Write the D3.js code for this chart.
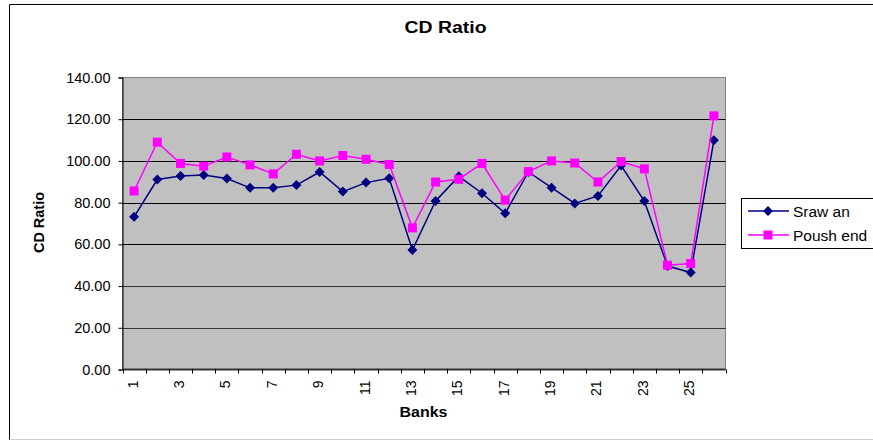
<!DOCTYPE html>
<html><head><meta charset="utf-8">
<script src="https://cdn.jsdelivr.net/npm/d3@7"></script>
<style>body{margin:0;background:#fff}svg{display:block;font-family:"Liberation Sans",Arial,sans-serif}</style>
</head><body>
<svg id="c" width="873" height="441"></svg>
<script>
const categories = d3.range(1, 27).map(String);
const srawan = [73.2,91.1,92.8,93.3,91.6,87.1,87.1,88.4,94.7,85.3,89.6,91.7,57.3,80.8,92.6,84.5,74.9,94.7,87.2,79.6,83.2,97.8,80.8,49.6,46.5,109.9];
const poushEnd = [85.6,109.0,98.8,97.5,101.9,98.1,93.8,103.2,100.0,102.6,100.8,98.3,67.9,89.9,91.2,98.8,81.2,94.9,100.0,99.0,89.9,99.7,96.2,50.0,50.8,121.6];
const yTicks = [0,20,40,60,80,100,120,140];
const seriesNames = ["Sraw an","Poush end"];

const svg = d3.select("#c");
const L = 122.5, R = 725.5, T = 77.5, B = 369.5;
const x = d3.scaleBand().domain(categories).range([L, R]);
const y = d3.scaleLinear().domain([0,140]).range([B, T]);

// outer frame
svg.append("line").attr("x1",9.5).attr("x2",9.5).attr("y1",4.5).attr("y2",440).attr("stroke","#000");
svg.append("line").attr("x1",9.5).attr("x2",873).attr("y1",4.5).attr("y2",4.5).attr("stroke","#000");
svg.append("line").attr("x1",9.5).attr("x2",873).attr("y1",439.5).attr("y2",439.5).attr("stroke","#ccc");

// plot area
svg.append("rect").attr("x",L).attr("y",T).attr("width",R-L).attr("height",B-T)
  .attr("fill","#c0c0c0").attr("stroke","#808080").attr("stroke-width",1);

// gridlines
svg.append("g").selectAll("line").data(yTicks.filter(d=>d>0 && d<140)).join("line")
  .attr("x1",L).attr("x2",R).attr("y1",d=>Math.round(y(d))+0.5).attr("y2",d=>Math.round(y(d))+0.5)
  .attr("stroke",d=>d<=40?"#333":"#000").attr("stroke-width",1);

// y axis
const yAxis = d3.axisLeft(y).tickValues(yTicks).tickFormat(d3.format(".2f")).tickSize(4).tickPadding(8);
const gy = svg.append("g").attr("transform",`translate(${L},0)`).call(yAxis);
gy.select(".domain").attr("stroke","#000");
gy.selectAll("line").attr("stroke","#000");
gy.selectAll("text").attr("font-size",14.5).attr("fill","#000").attr("font-family","Liberation Sans, Arial");

// x axis
const boundaries = d3.range(0,27).map(i => L + i*x.step());
svg.append("line").attr("x1",L).attr("x2",R).attr("y1",B).attr("y2",B).attr("stroke","#333").attr("stroke-width",2);
svg.append("g").selectAll("line").data(boundaries).join("line")
  .attr("x1",d=>Math.round(d)+0.5).attr("x2",d=>Math.round(d)+0.5).attr("y1",B).attr("y2",B+4).attr("stroke","#000");
svg.append("g").selectAll("text").data(categories.filter((c,i)=>i%2===0)).join("text")
  .attr("transform",d=>`translate(${x(d)+x.bandwidth()/2+3.5},${B+11}) rotate(-90)`)
  .attr("text-anchor","end").attr("font-size",14).text(d=>d);

// titles
svg.append("text").attr("x",445.5).attr("y",33).attr("text-anchor","middle")
  .attr("font-size",16).attr("font-weight","bold")
  .attr("textLength",82).attr("lengthAdjust","spacingAndGlyphs").text("CD Ratio");
svg.append("text").attr("x",423.5).attr("y",416.5).attr("text-anchor","middle")
  .attr("font-size",15).attr("font-weight","bold")
  .attr("textLength",48).attr("lengthAdjust","spacingAndGlyphs").text("Banks");
svg.append("text").attr("transform","translate(44,222.5) rotate(-90)").attr("text-anchor","middle")
  .attr("font-size",14).attr("font-weight","bold")
  .attr("textLength",61).attr("lengthAdjust","spacingAndGlyphs").text("CD Ratio");

const cx = d => x(d) + x.bandwidth()/2;
const line = d3.line().x((d,i)=>cx(categories[i])).y(d=>y(d));

function marker(g, px, py, color, kind){
  if(kind==="diamond")
    g.append("path").attr("d",`M${px},${py-5}L${px+5},${py}L${px},${py+5}L${px-5},${py}Z`).attr("fill",color);
  else
    g.append("rect").attr("x",px-4.5).attr("y",py-4.5).attr("width",9).attr("height",9).attr("fill",color);
}
function drawSeries(data, color, kind){
  svg.append("path").datum(data).attr("d",line).attr("fill","none").attr("stroke",color).attr("stroke-width",1.5);
  const g = svg.append("g");
  data.forEach((v,i)=>marker(g, cx(categories[i]), y(v), color, kind));
}
drawSeries(srawan, "#000080", "diamond");
drawSeries(poushEnd, "#ff00ff", "square");

// legend
const lg = svg.append("g");
lg.append("rect").attr("x",741.5).attr("y",198.5).attr("width",140).attr("height",50).attr("fill","#fff").attr("stroke","#000");
const items = [{n:seriesNames[0],c:"#000080",k:"diamond",y:211},{n:seriesNames[1],c:"#ff00ff",k:"square",y:235}];
items.forEach(it=>{
  lg.append("line").attr("x1",748).attr("x2",789).attr("y1",it.y).attr("y2",it.y).attr("stroke",it.c).attr("stroke-width",1.5);
  marker(lg, 768, it.y, it.c, it.k);
  lg.append("text").attr("x",793).attr("y",it.y+5.5).attr("font-size",15.5).text(it.n);
});
</script>
</body></html>
